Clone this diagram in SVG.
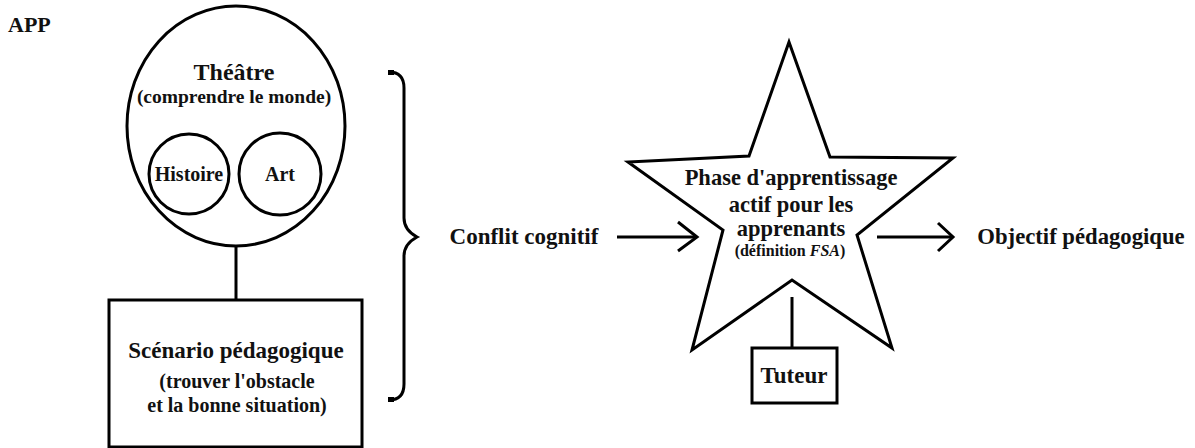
<svg xmlns="http://www.w3.org/2000/svg" width="1195" height="448" viewBox="0 0 1195 448">
<style>
text{font-family:'Liberation Serif','Times New Roman',Times,'DejaVu Serif',serif;font-weight:bold;fill:#111;text-anchor:middle}
.s{fill:none;stroke:#000;stroke-width:3}
.n{fill:#fff;stroke:#000;stroke-width:3}
</style>
<rect width="1195" height="448" fill="#fff"/>
<text x="8" y="32" style="text-anchor:start" font-size="22">APP</text>
<g id="theatre">
<ellipse class="n" cx="236" cy="126" rx="109" ry="120"/>
<text x="234" y="80" font-size="24">Théâtre</text>
<text x="234" y="103" font-size="19.5">(comprendre le monde)</text>
</g>
<g id="histoire">
<circle class="n" cx="189" cy="174" r="40"/>
<text x="189" y="181" font-size="20">Histoire</text>
</g>
<g id="art">
<circle class="n" cx="280" cy="174" r="41"/>
<text x="280" y="181" font-size="20">Art</text>
</g>
<g id="scenario">
<rect class="n" x="109" y="300" width="253" height="147"/>
<text x="236" y="358" font-size="23">Scénario pédagogique</text>
<text x="237" y="388" font-size="20">(trouver l'obstacle</text>
<text x="237" y="412" font-size="20">et la bonne situation)</text>
</g>
<g id="conflit">
<text x="524" y="244" font-size="23">Conflit cognitif</text>
</g>
<g id="phase">
<polygon class="n" stroke-linejoin="miter" points="789,42 830,157 953,158 857,235 892,348 792,280 692,350 723,230 628,162 749,156"/>
<text x="791" y="185" font-size="22.5">Phase d'apprentissage</text>
<text x="791" y="212" font-size="22.5">actif pour les</text>
<text x="791" y="236" font-size="22.5">apprenants</text>
<text x="790" y="256" font-size="16">(définition <tspan font-style="italic">FSA</tspan>)</text>
</g>
<g id="tuteur">
<rect class="n" x="752" y="348" width="85" height="55"/>
<text x="794" y="383" font-size="23">Tuteur</text>
</g>
<g id="objectif">
<text x="1081" y="244" font-size="22.7">Objectif pédagogique</text>
</g>
<g id="connectors">
<line class="s" x1="236" y1="247" x2="236" y2="300"/>
<path class="s" d="M389,72 Q404,72 404,88 L404,218 Q404,230 417,237 Q404,244 404,256 L404,384 Q404,400 389,400" stroke-width="2.5"/>
<path d="M388,70 h6 v5 h-6z M388,397 h6 v5 h-6z" fill="#000"/>
<line class="s" x1="617" y1="237" x2="696" y2="237"/>
<polyline class="s" points="678,222 697,237 678,251"/>
<line class="s" x1="877" y1="237" x2="952" y2="237"/>
<polyline class="s" points="938,223 953,237 938,251"/>
<line class="s" x1="792" y1="297" x2="792" y2="348"/>
</g>
</svg>
